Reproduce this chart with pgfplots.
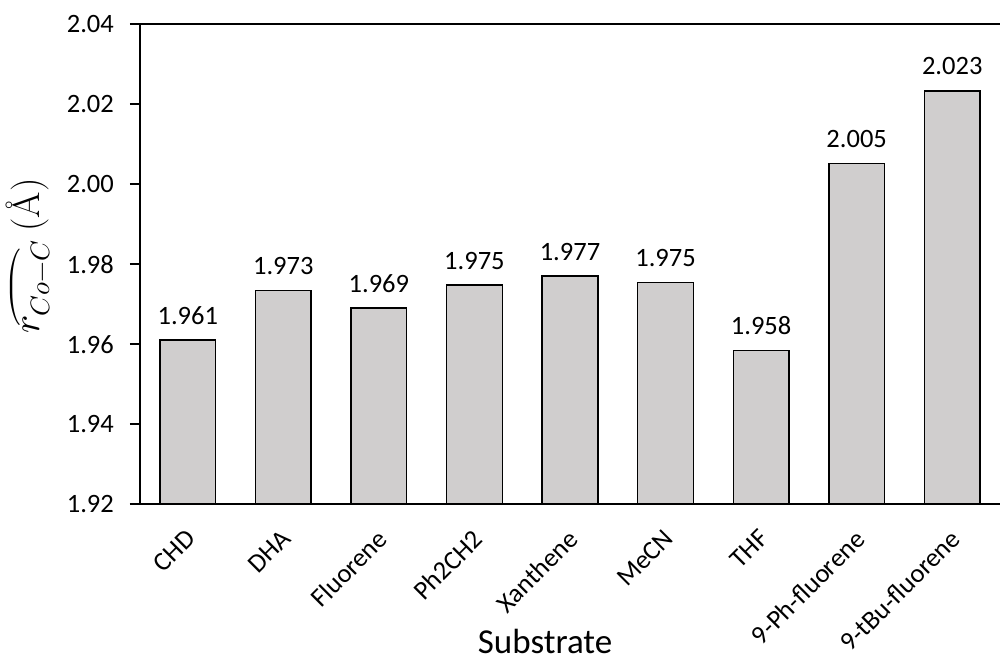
\documentclass[border=0pt]{standalone}
\usepackage{fontspec}
\usepackage{unicode-math}
\setmainfont{Carlito}
\setmathfont{Latin Modern Math}
\newfontfamily\lmr{Latin Modern Roman}
\usepackage{pgfplots}
\pgfplotsset{compat=1.18}
\definecolor{barfill}{HTML}{D0CECE}
\begin{document}
\begin{tikzpicture}
\useasboundingbox (-140bp,-151bp) rectangle (861bp,504bp);
\begin{axis}[
  at={(0,0)}, anchor=south west,
  scale only axis, width=860bp, height=479.5bp,
  xmin=-0.5, xmax=8.5, ymin=1.92, ymax=2.04,
  ytick={1.92,1.94,1.96,1.98,2.00,2.02,2.04},
  /pgf/number format/assume math mode=true,
  yticklabel={\pgfmathprintnumber[fixed,fixed zerofill,precision=2]{\tick}},
  xtick=data,
  xticklabels={CHD,DHA,Fluorene,Ph2CH2,Xanthene,MeCN,THF,9-Ph-fluorene,9-tBu-fluorene},
  axis x line*=bottom, axis y line*=left,
  axis line style={line width=2bp, black},
  x axis line style={shorten <=-10bp},
  tick align=outside,
  major tick length=10bp,
  major x tick style={draw=none},
  major y tick style={line width=2bp, black},
  tick label style={font=\fontsize{26.5bp}{30bp}\selectfont, black},
  yticklabel style={anchor=east, inner sep=0pt, xshift=-16bp},
  xticklabel style={inner sep=0pt, xshift=-3bp, yshift=-14bp, rotate=45, anchor=north east},
  ybar, bar width=55.7bp,
  nodes near coords={\pgfmathprintnumber[fixed,fixed zerofill,precision=3]{\pgfplotspointmeta}},
  nodes near coords style={font=\fontsize{26.5bp}{30bp}\selectfont, anchor=south, inner sep=0pt, yshift=15bp, black},
  xlabel={Substrate},
  xlabel style={font=\fontsize{35bp}{40bp}\selectfont, at={(axis description cs:0.471,0)}, anchor=base, yshift=-149bp},
  ylabel={$\overparen{r_{Co-C}}$\ {\lmr (Å)}},
  ylabel style={font=\fontsize{38bp}{43bp}\selectfont, at={(axis description cs:-0.13,0.517)}, anchor=center, rotate=0},
  clip=false,
]
\addplot[fill=barfill, draw=black, line width=1.5bp] coordinates {
  (0,1.961) (1,1.9734) (2,1.969) (3,1.9748) (4,1.977) (5,1.9754) (6,1.9584) (7,2.0052) (8,2.0234)
};
\end{axis}
\draw[line width=2bp, black] (0,479.5bp) -- (860bp,479.5bp);
\end{tikzpicture}
\end{document}
